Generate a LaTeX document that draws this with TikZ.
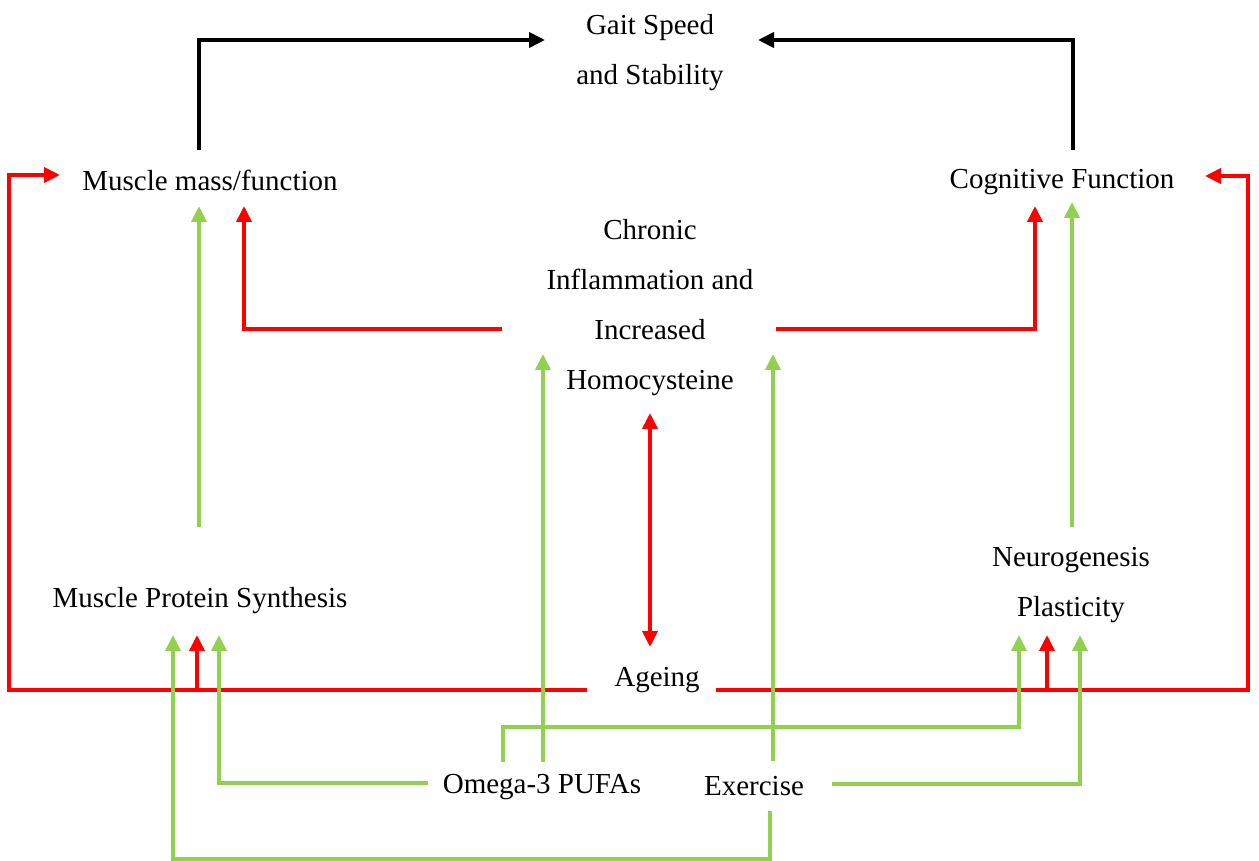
\documentclass[tikz,border=0pt]{standalone}
\usepackage{fontspec}
\setmainfont{Liberation Serif}
\usetikzlibrary{arrows.meta}
\definecolor{gr}{RGB}{146,208,80}
\definecolor{rd}{RGB}{255,0,0}
\begin{document}
\begin{tikzpicture}[x=0.02cm,y=-0.02cm,
  lbl/.style={font=\fontsize{16.5}{28.45}\selectfont, align=center, inner sep=0pt},
  conn/.style={line width=2.1pt, line join=miter},
  tip/.style={-{Triangle[width=0.3cm,length=0.32cm]}},
  blk/.style={conn, tip, black},
  redc/.style={conn, tip, rd},
  grn/.style={conn, tip, gr}]
\useasboundingbox (0,0) rectangle (1259,861);
% texts
\node[lbl] (gait) at (650,53) {Gait Speed\\and Stability};
\node[lbl] (mm) at (210,180) {Muscle mass/function};
\node[lbl] (cog) at (1062,182) {Cognitive Function};
\node[lbl] (chr) at (650,308) {Chronic\\Inflammation and\\Increased\\Homocysteine};
\node[lbl] (mps) at (200,601) {Muscle Protein Synthesis};
\node[lbl] (neu) at (1071,585) {Neurogenesis\\Plasticity};
\node[lbl] (age) at (657,680) {Ageing};
\node[lbl] (om) at (542,787) {Omega-3 PUFAs};
\node[lbl] (ex) at (754,786) {Exercise};
% connector ends
\coordinate (mmTop) at (199,150);
\coordinate (gaitL) at (545,40);
\coordinate (cogTop) at (1073,150);
\coordinate (gaitR) at (758,40);
\coordinate (mmW) at (60,175);
\coordinate (cogE) at (1205,176);
\coordinate (mmS1) at (199,206);
\coordinate (mmS2) at (244,206);
\coordinate (cogS1) at (1035,206);
\coordinate (cogS2) at (1072,202);
\coordinate (chrW) at (502,329);
\coordinate (chrE) at (776,329);
\coordinate (chrS1) at (543,354);
\coordinate (chrS2) at (773,354);
\coordinate (chrB) at (650,413);
\coordinate (ageT) at (650,647);
\coordinate (ageL) at (587,690);
\coordinate (ageR) at (716,690);
\coordinate (ageM1) at (197,690);
\coordinate (ageM2) at (1047,690);
\coordinate (mpsN) at (199,527);
\coordinate (neuN) at (1072,527);
\coordinate (mpsS1) at (173,635);
\coordinate (mpsS2) at (197,635);
\coordinate (mpsS3) at (219,635);
\coordinate (neuS1) at (1019,635);
\coordinate (neuS2) at (1047,635);
\coordinate (neuS3) at (1080,635);
\coordinate (omT1) at (543,762);
\coordinate (omT2) at (503,762);
\coordinate (omW) at (428,783);
\coordinate (exT) at (773,761);
\coordinate (exE) at (832,784);
\coordinate (exB) at (770,811);
% black
\draw[blk] (mmTop) |- (gaitL);
\draw[blk] (cogTop) |- (gaitR);
% red
\draw[redc] (ageL) -- ++(-578,0) |- (mmW);
\draw[redc] (ageR) -- ++(532,0) |- (cogE);
\draw[redc] (ageM1) -- (mpsS2);
\draw[redc] (ageM2) -- (neuS2);
\draw[redc] (chrW) -| (mmS2);
\draw[redc] (chrE) -| (cogS1);
\draw[conn, rd, {Triangle[width=0.3cm,length=0.32cm]}-{Triangle[width=0.3cm,length=0.32cm]}] (chrB) -- (ageT);
% green
\draw[grn] (mpsN) -- (mmS1);
\draw[grn] (neuN) -- (cogS2);
\draw[grn] (omT1) -- (chrS1);
\draw[grn] (omT2) -- ++(0,-35) -| (neuS1);
\draw[grn] (omW) -| (mpsS3);
\draw[grn] (exT) -- (chrS2);
\draw[grn] (exE) -| (neuS3);
\draw[grn] (exB) -- ++(0,48) -| (mpsS1);
\end{tikzpicture}
\end{document}
